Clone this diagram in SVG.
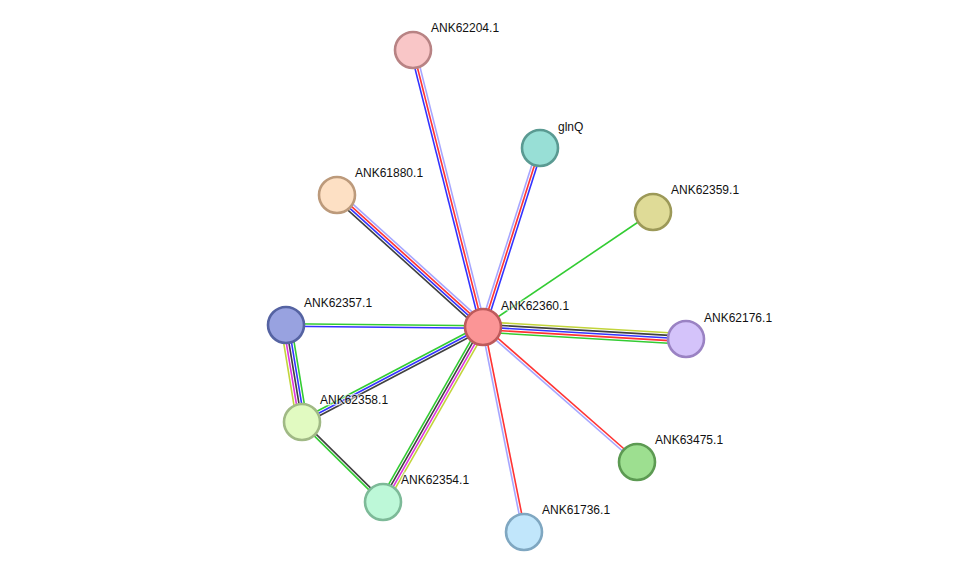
<svg xmlns="http://www.w3.org/2000/svg" width="976" height="577" viewBox="0 0 976 577">
<style>
  line { stroke-width: 1.6; fill: none; }
  .g { stroke: #33cc33; }
  .r { stroke: #ff3333; }
  .b { stroke: #3333ff; }
  .h { stroke: #a6a6ff; }
  .k { stroke: #404040; }
  .m { stroke: #dd33dd; }
  .y { stroke: #c2d43a; }
  circle { stroke-width: 2.6; }
  text { font-family: "Liberation Sans", Arial, sans-serif; font-size: 12px; fill: #111; stroke: #fff; stroke-width: 2.5; stroke-opacity: 0.6; paint-order: stroke; }
</style>
<rect width="976" height="577" fill="#fff"/>
<g id="edges">
  <!-- 360 - 62204 -->
  <line class="b" x1="480.48" y1="327.64" x2="410.48" y2="50.64"/>
  <line class="r" x1="483" y1="327" x2="413" y2="50"/>
  <line class="h" x1="485.52" y1="326.36" x2="415.52" y2="49.36"/>
  <!-- 360 - glnQ -->
  <line class="h" x1="480.52" y1="326.21" x2="537.52" y2="147.21"/>
  <line class="r" x1="483" y1="327" x2="540" y2="148"/>
  <line class="b" x1="485.48" y1="327.79" x2="542.48" y2="148.79"/>
  <!-- 360 - 61880 -->
  <line class="h" x1="485.62" y1="324.11" x2="339.62" y2="192.11"/>
  <line class="r" x1="483.87" y1="326.04" x2="337.87" y2="194.04"/>
  <line class="b" x1="482.13" y1="327.96" x2="336.13" y2="195.96"/>
  <line class="k" x1="480.38" y1="329.89" x2="334.38" y2="197.89"/>
  <!-- 360 - 62359 -->
  <line class="g" x1="483" y1="327" x2="653" y2="212"/>
  <!-- 360 - 62357 -->
  <line class="g" x1="483" y1="325.7" x2="286" y2="323.7"/>
  <line class="b" x1="483" y1="328.3" x2="286" y2="326.3"/>
  <!-- 360 - 62176 -->
  <line class="y" x1="483" y1="321.8" x2="686" y2="333.8"/>
  <line class="k" x1="483" y1="324.4" x2="686" y2="336.4"/>
  <line class="b" x1="483" y1="327" x2="686" y2="339"/>
  <line class="r" x1="483" y1="329.6" x2="686" y2="341.6"/>
  <line class="g" x1="483" y1="332.2" x2="686" y2="344.2"/>
  <!-- 360 - 62358 -->
  <line class="g" x1="481.79" y1="324.70" x2="300.79" y2="419.70"/>
  <line class="b" x1="483" y1="327" x2="302" y2="422"/>
  <line class="k" x1="484.21" y1="329.30" x2="303.21" y2="424.30"/>
  <!-- 360 - 62354 -->
  <line class="g" x1="479.62" y1="325.07" x2="379.62" y2="500.07"/>
  <line class="k" x1="481.87" y1="326.36" x2="381.87" y2="501.36"/>
  <line class="m" x1="484.13" y1="327.64" x2="384.13" y2="502.64"/>
  <line class="y" x1="486.38" y1="328.93" x2="386.38" y2="503.93"/>
  <!-- 360 - 63475 -->
  <line class="r" x1="483.86" y1="326.02" x2="637.86" y2="461.02"/>
  <line class="h" x1="482.14" y1="327.98" x2="636.14" y2="462.98"/>
  <!-- 360 - 61736 -->
  <line class="r" x1="484.27" y1="326.75" x2="525.27" y2="531.75"/>
  <line class="h" x1="481.73" y1="327.25" x2="522.73" y2="532.25"/>
  <!-- 62357 - 62358 -->
  <line class="y" x1="280.87" y1="325.85" x2="296.87" y2="422.85"/>
  <line class="m" x1="283.43" y1="325.42" x2="299.43" y2="422.42"/>
  <line class="k" x1="286" y1="325" x2="302" y2="422"/>
  <line class="b" x1="288.57" y1="324.58" x2="304.57" y2="421.58"/>
  <line class="g" x1="291.13" y1="324.15" x2="307.13" y2="421.15"/>
  <!-- 62358 - 62354 -->
  <line class="k" x1="302.91" y1="421.07" x2="383.91" y2="501.07"/>
  <line class="g" x1="301.09" y1="422.93" x2="382.09" y2="502.93"/>
</g>
<g id="n62204"><circle cx="413" cy="50" r="18" fill="#f9c6c7" stroke="#b88384"/><text x="431" y="32">ANK62204.1</text></g>
<g id="nglnQ"><circle cx="540" cy="148" r="18" fill="#98dfd6" stroke="#5a9a92"/><text x="558" y="131">glnQ</text></g>
<g id="n61880"><circle cx="337" cy="195" r="18" fill="#fde0c4" stroke="#bc9a7b"/><text x="355" y="177">ANK61880.1</text></g>
<g id="n62359"><circle cx="653" cy="212" r="18" fill="#dfdb97" stroke="#9c9958"/><text x="671" y="194">ANK62359.1</text></g>
<g id="n62357"><circle cx="286" cy="325" r="18" fill="#98a2e0" stroke="#5563a2"/><text x="304" y="307">ANK62357.1</text></g>
<g id="n62360"><circle cx="483" cy="327" r="18" fill="#fb9596" stroke="#bd5a5b"/><text x="501" y="310">ANK62360.1</text></g>
<g id="n62176"><circle cx="686" cy="339" r="18" fill="#d4c3fa" stroke="#9a82c3"/><text x="704" y="322">ANK62176.1</text></g>
<g id="n62358"><circle cx="302" cy="422" r="18" fill="#e1fac1" stroke="#a0b985"/><text x="320" y="404">ANK62358.1</text></g>
<g id="n63475"><circle cx="637" cy="462" r="18" fill="#9ddf90" stroke="#5c9a52"/><text x="655" y="444">ANK63475.1</text></g>
<g id="n62354"><circle cx="383" cy="502" r="18" fill="#bdf8d8" stroke="#7dba98"/><text x="401" y="484">ANK62354.1</text></g>
<g id="n61736"><circle cx="524" cy="532" r="18" fill="#c1e6fb" stroke="#7fa7c1"/><text x="542" y="514">ANK61736.1</text></g>
</svg>
